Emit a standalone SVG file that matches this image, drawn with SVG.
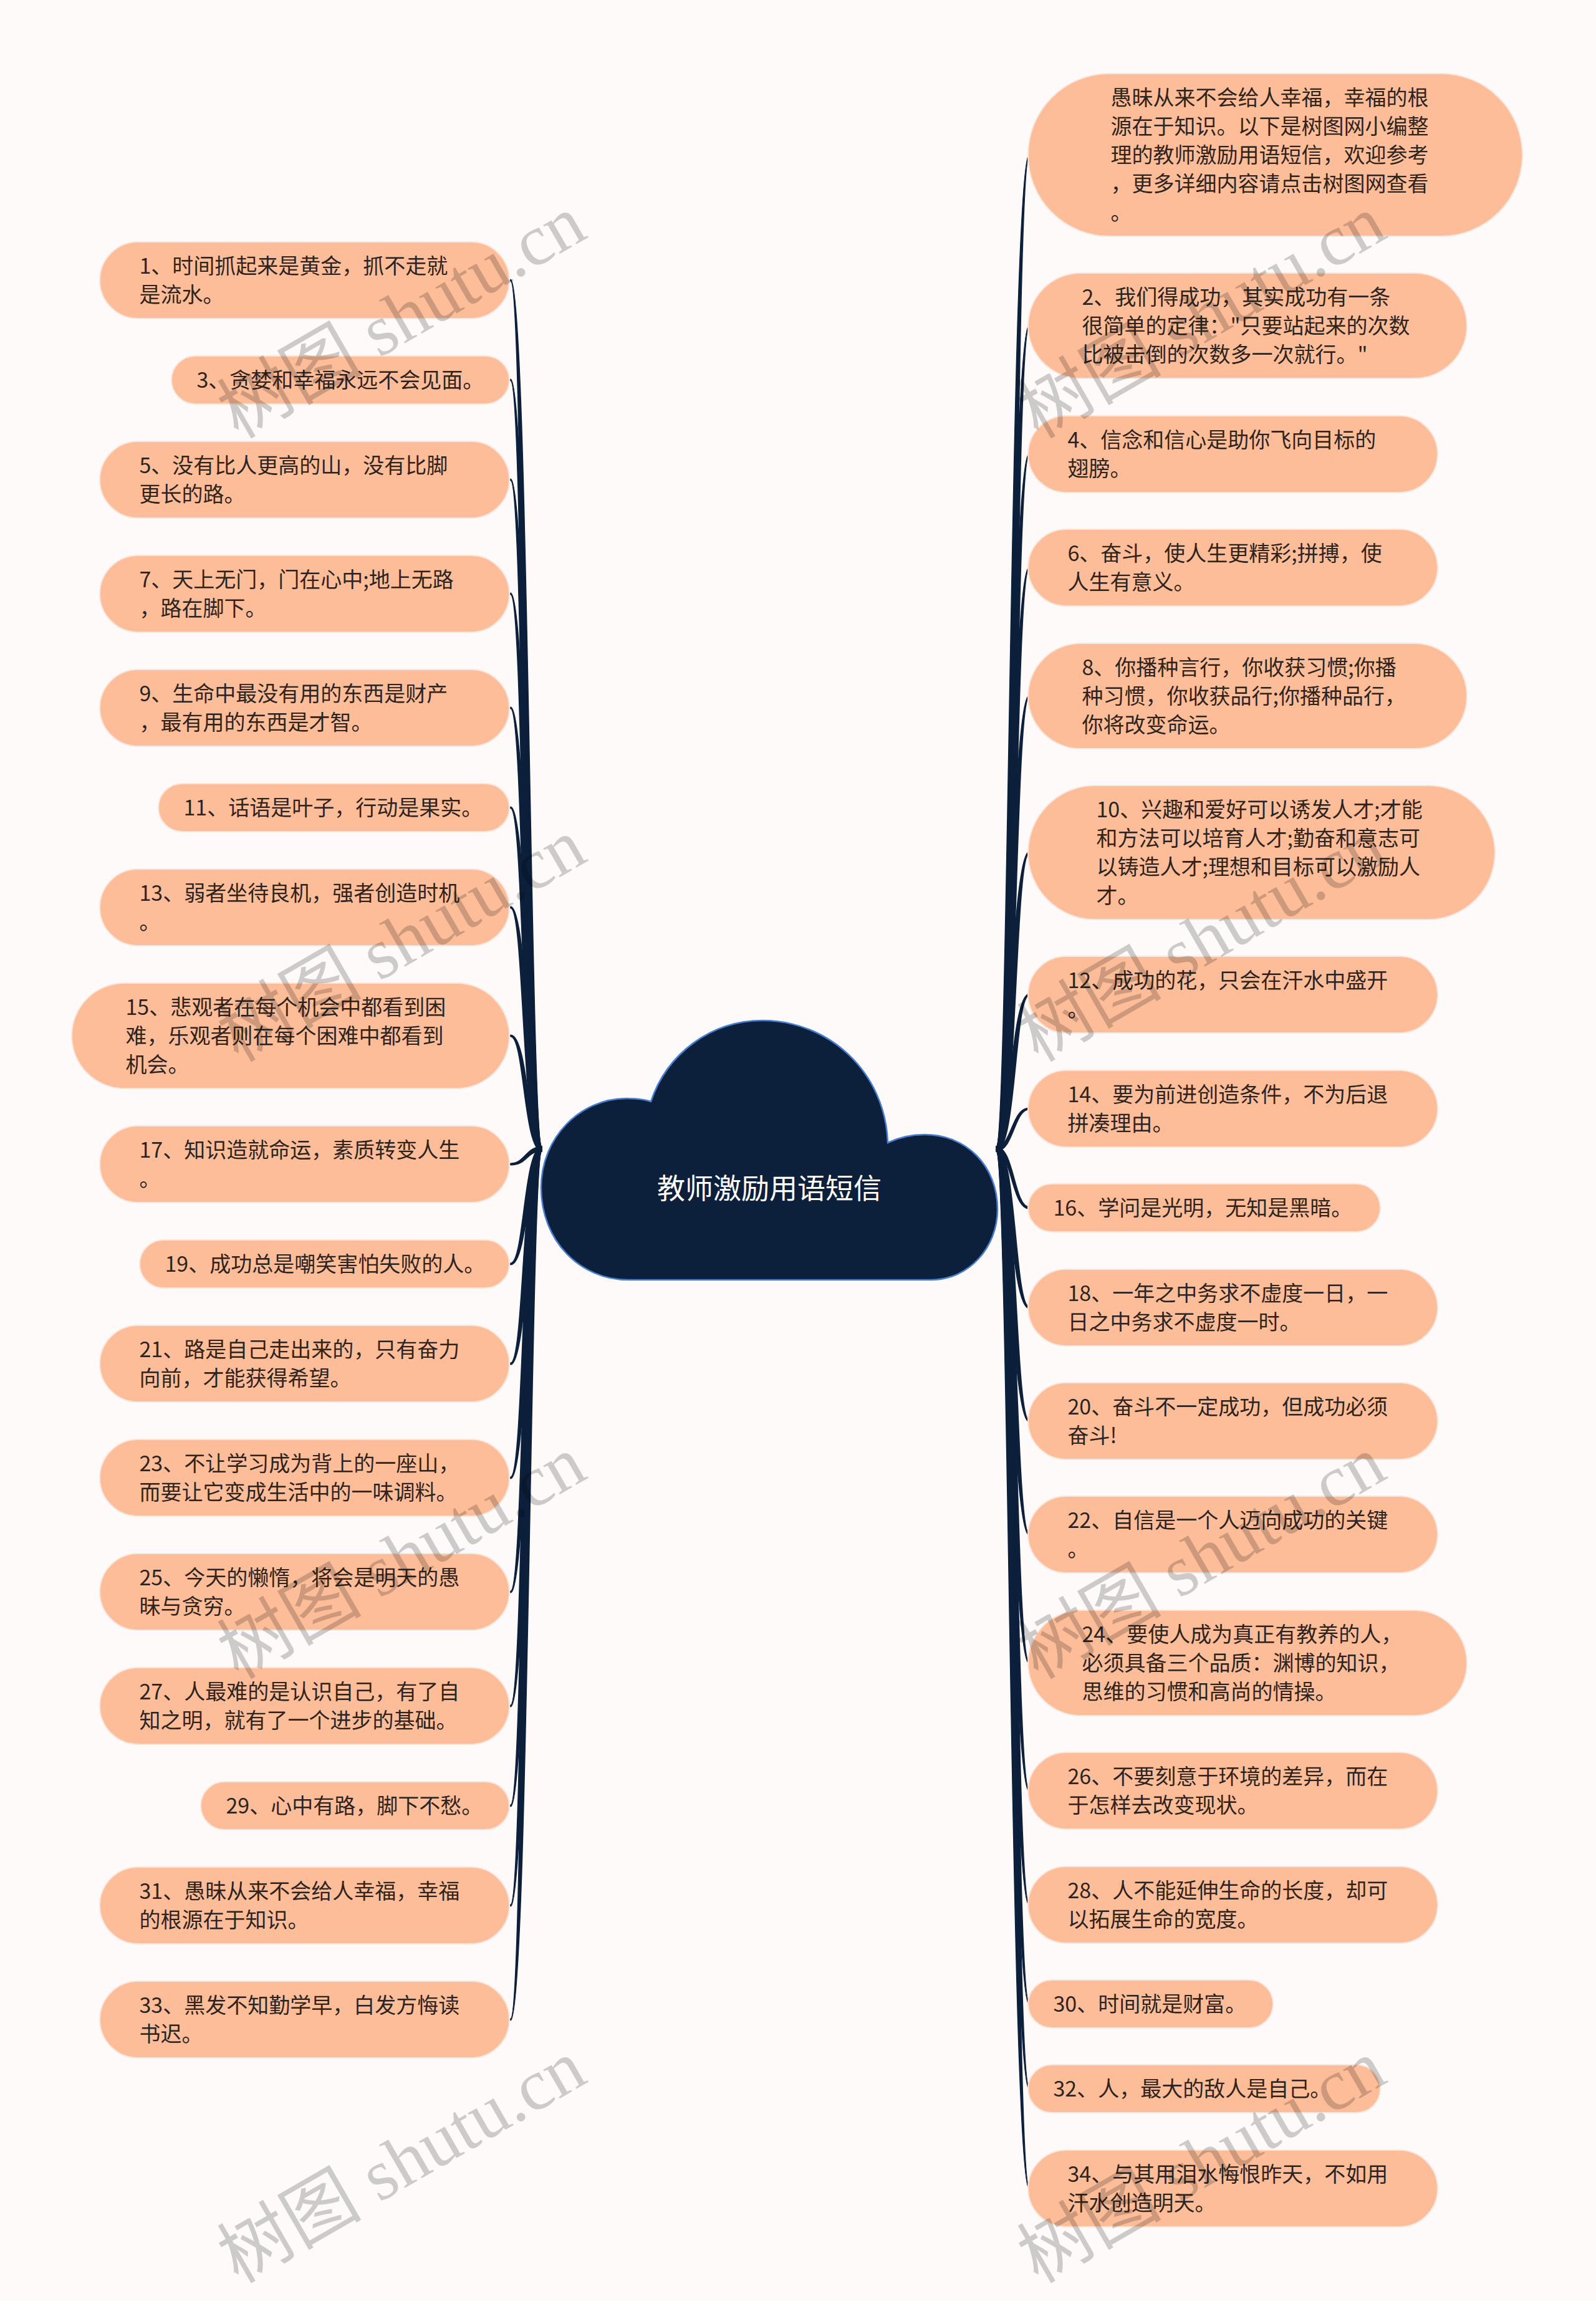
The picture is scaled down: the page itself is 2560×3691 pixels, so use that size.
<svg xmlns="http://www.w3.org/2000/svg" width="2560" height="3691" viewBox="0 0 2560 3691">
<style>
.n{fill:#fdbd99;stroke:#f8e6dc;stroke-width:2}
.t{font-family:"Noto Sans CJK SC","Noto Sans",sans-serif;font-size:34px;fill:#2e241d}
.c{fill:#0c1f3b;stroke:#0c1f3b;stroke-width:1.6;stroke-linejoin:round}
.wm{font-family:"Liberation Serif","Noto Sans CJK SC",serif;font-size:116px;fill:#000;fill-opacity:0.19}
</style>
<rect width="2560" height="3691" fill="#fdfaf9"/>
<g id="connectors" class="c">
<path d="M869 1839.5C851 1839.5 847 448.2 819 448.2L819 450.8C841 450.8 837 1846.5 869 1846.5Z"/>
<path d="M869 1839.5C851 1839.5 847 608.2 819 608.2L819 610.8C841 610.8 837 1846.5 869 1846.5Z"/>
<path d="M869 1839.5C851 1839.5 847 768.2 819 768.2L819 770.8C841 770.8 837 1846.5 869 1846.5Z"/>
<path d="M869 1839.5C851 1839.5 847 951.2 819 951.2L819 953.8C841 953.8 837 1846.5 869 1846.5Z"/>
<path d="M869 1839.5C851 1839.5 847 1134.2 819 1134.2L819 1136.8C841 1136.8 837 1846.5 869 1846.5Z"/>
<path d="M869 1839.5C851 1839.5 847 1294.2 819 1294.2L819 1296.8C841 1296.8 837 1846.5 869 1846.5Z"/>
<path d="M869 1839.5C851 1839.5 847 1454.2 819 1454.2L819 1456.8C841 1456.8 837 1846.5 869 1846.5Z"/>
<path d="M869 1839.5C848.2 1839.5 847 1660.2 819 1660.2L819 1662.8C841 1662.8 839.8 1846.5 869 1846.5Z"/>
<path d="M869 1839.5C843.4 1839.5 842 1866.2 819 1866.2L819 1868.8C846 1868.8 844.6 1846.5 869 1846.5Z"/>
<path d="M869 1839.5C839.7 1839.5 841 2026.2 819 2026.2L819 2028.8C847 2028.8 848.3 1846.5 869 1846.5Z"/>
<path d="M869 1839.5C837 1839.5 841 2186.2 819 2186.2L819 2188.8C847 2188.8 851 1846.5 869 1846.5Z"/>
<path d="M869 1839.5C837 1839.5 841 2369.2 819 2369.2L819 2371.8C847 2371.8 851 1846.5 869 1846.5Z"/>
<path d="M869 1839.5C837 1839.5 841 2552.2 819 2552.2L819 2554.8C847 2554.8 851 1846.5 869 1846.5Z"/>
<path d="M869 1839.5C837 1839.5 841 2735.2 819 2735.2L819 2737.8C847 2737.8 851 1846.5 869 1846.5Z"/>
<path d="M869 1839.5C837 1839.5 841 2895.2 819 2895.2L819 2897.8C847 2897.8 851 1846.5 869 1846.5Z"/>
<path d="M869 1839.5C837 1839.5 841 3055.2 819 3055.2L819 3057.8C847 3057.8 851 1846.5 869 1846.5Z"/>
<path d="M869 1839.5C837 1839.5 841 3238.2 819 3238.2L819 3240.8C847 3240.8 851 1846.5 869 1846.5Z"/>
<path d="M1598 1839.5C1617.5 1839.5 1621.5 247.2 1651 247.2L1651 249.8C1627.5 249.8 1631.5 1846.5 1598 1846.5Z"/>
<path d="M1598 1839.5C1617.5 1839.5 1621.5 521.2 1651 521.2L1651 523.8C1627.5 523.8 1631.5 1846.5 1598 1846.5Z"/>
<path d="M1598 1839.5C1617.5 1839.5 1621.5 727.2 1651 727.2L1651 729.8C1627.5 729.8 1631.5 1846.5 1598 1846.5Z"/>
<path d="M1598 1839.5C1617.5 1839.5 1621.5 909.2 1651 909.2L1651 911.8C1627.5 911.8 1631.5 1846.5 1598 1846.5Z"/>
<path d="M1598 1839.5C1617.5 1839.5 1621.5 1115.2 1651 1115.2L1651 1117.8C1627.5 1117.8 1631.5 1846.5 1598 1846.5Z"/>
<path d="M1598 1839.5C1617.5 1839.5 1621.5 1366.2 1651 1366.2L1651 1368.8C1627.5 1368.8 1631.5 1846.5 1598 1846.5Z"/>
<path d="M1598 1839.5C1618.7 1839.5 1621.5 1594.2 1651 1594.2L1651 1596.8C1627.5 1596.8 1630.3 1846.5 1598 1846.5Z"/>
<path d="M1598 1839.5C1623 1839.5 1622.5 1777.2 1651 1777.2L1651 1779.8C1626.5 1779.8 1626 1846.5 1598 1846.5Z"/>
<path d="M1598 1839.5C1626.7 1839.5 1626.5 1936.2 1651 1936.2L1651 1938.8C1622.5 1938.8 1622.3 1846.5 1598 1846.5Z"/>
<path d="M1598 1839.5C1630.4 1839.5 1627.5 2096.2 1651 2096.2L1651 2098.8C1621.5 2098.8 1618.6 1846.5 1598 1846.5Z"/>
<path d="M1598 1839.5C1631.5 1839.5 1627.5 2278.2 1651 2278.2L1651 2280.8C1621.5 2280.8 1617.5 1846.5 1598 1846.5Z"/>
<path d="M1598 1839.5C1631.5 1839.5 1627.5 2460.2 1651 2460.2L1651 2462.8C1621.5 2462.8 1617.5 1846.5 1598 1846.5Z"/>
<path d="M1598 1839.5C1631.5 1839.5 1627.5 2666.2 1651 2666.2L1651 2668.8C1621.5 2668.8 1617.5 1846.5 1598 1846.5Z"/>
<path d="M1598 1839.5C1631.5 1839.5 1627.5 2871.2 1651 2871.2L1651 2873.8C1621.5 2873.8 1617.5 1846.5 1598 1846.5Z"/>
<path d="M1598 1839.5C1631.5 1839.5 1627.5 3054.2 1651 3054.2L1651 3056.8C1621.5 3056.8 1617.5 1846.5 1598 1846.5Z"/>
<path d="M1598 1839.5C1631.5 1839.5 1627.5 3213.2 1651 3213.2L1651 3215.8C1621.5 3215.8 1617.5 1846.5 1598 1846.5Z"/>
<path d="M1598 1839.5C1631.5 1839.5 1627.5 3349.2 1651 3349.2L1651 3351.8C1621.5 3351.8 1617.5 1846.5 1598 1846.5Z"/>
<path d="M1598 1839.5C1631.5 1839.5 1627.5 3509.2 1651 3509.2L1651 3511.8C1621.5 3511.8 1617.5 1846.5 1598 1846.5Z"/>
</g>
<g id="center">
<path d="M1008 2053C930 2053 868 1990 868 1905C868 1825 930 1762 1005 1762C1020 1762 1035 1764 1044 1767C1070 1690 1140 1637 1223 1637C1330 1637 1420 1720 1424 1833C1445 1823 1465 1820 1483 1820C1550 1820 1600 1870 1600 1940C1600 2000 1555 2053 1493 2053Z" fill="#0c1f3b" stroke="#4a7fd0" stroke-width="2.5"/>
<text x="1234" y="1923" text-anchor="middle" font-family="'Noto Sans CJK SC',sans-serif" font-size="45" fill="#ffffff">教师激励用语短信</text>
</g>
<g id="n1"><rect class="n" x="160" y="388" width="657" height="123" rx="61.5"/><text class="t"><tspan x="223.5" y="438.5">1、时间抓起来是黄金，抓不走就</tspan><tspan x="223.5" y="484.5">是流水。</tspan></text></g>
<g id="n3"><rect class="n" x="275" y="571" width="542" height="77" rx="38.5"/><text class="t"><tspan x="315.5" y="621.5">3、贪婪和幸福永远不会见面。</tspan></text></g>
<g id="n5"><rect class="n" x="160" y="708" width="657" height="123" rx="61.5"/><text class="t"><tspan x="223.5" y="758.5">5、没有比人更高的山，没有比脚</tspan><tspan x="223.5" y="804.5">更长的路。</tspan></text></g>
<g id="n7"><rect class="n" x="160" y="891" width="657" height="123" rx="61.5"/><text class="t"><tspan x="223.5" y="941.5">7、天上无门，门在心中;地上无路</tspan><tspan x="223.5" y="987.5">，路在脚下。</tspan></text></g>
<g id="n9"><rect class="n" x="160" y="1074" width="657" height="123" rx="61.5"/><text class="t"><tspan x="223.5" y="1124.5">9、生命中最没有用的东西是财产</tspan><tspan x="223.5" y="1170.5">，最有用的东西是才智。</tspan></text></g>
<g id="n11"><rect class="n" x="254" y="1257" width="563" height="77" rx="38.5"/><text class="t"><tspan x="294.5" y="1307.5">11、话语是叶子，行动是果实。</tspan></text></g>
<g id="n13"><rect class="n" x="160" y="1394" width="657" height="123" rx="61.5"/><text class="t"><tspan x="223.5" y="1444.5">13、弱者坐待良机，强者创造时机</tspan><tspan x="223.5" y="1490.5">。</tspan></text></g>
<g id="n15"><rect class="n" x="115" y="1577" width="702" height="169" rx="84.5"/><text class="t"><tspan x="201.5" y="1627.5">15、悲观者在每个机会中都看到困</tspan><tspan x="201.5" y="1673.5">难，乐观者则在每个困难中都看到</tspan><tspan x="201.5" y="1719.5">机会。</tspan></text></g>
<g id="n17"><rect class="n" x="160" y="1806" width="657" height="123" rx="61.5"/><text class="t"><tspan x="223.5" y="1856.5">17、知识造就命运，素质转变人生</tspan><tspan x="223.5" y="1902.5">。</tspan></text></g>
<g id="n19"><rect class="n" x="224" y="1989" width="593" height="77" rx="38.5"/><text class="t"><tspan x="264.5" y="2039.5">19、成功总是嘲笑害怕失败的人。</tspan></text></g>
<g id="n21"><rect class="n" x="160" y="2126" width="657" height="123" rx="61.5"/><text class="t"><tspan x="223.5" y="2176.5">21、路是自己走出来的，只有奋力</tspan><tspan x="223.5" y="2222.5">向前，才能获得希望。</tspan></text></g>
<g id="n23"><rect class="n" x="160" y="2309" width="657" height="123" rx="61.5"/><text class="t"><tspan x="223.5" y="2359.5">23、不让学习成为背上的一座山，</tspan><tspan x="223.5" y="2405.5">而要让它变成生活中的一味调料。</tspan></text></g>
<g id="n25"><rect class="n" x="160" y="2492" width="657" height="123" rx="61.5"/><text class="t"><tspan x="223.5" y="2542.5">25、今天的懒惰，将会是明天的愚</tspan><tspan x="223.5" y="2588.5">昧与贪穷。</tspan></text></g>
<g id="n27"><rect class="n" x="160" y="2675" width="657" height="123" rx="61.5"/><text class="t"><tspan x="223.5" y="2725.5">27、人最难的是认识自己，有了自</tspan><tspan x="223.5" y="2771.5">知之明，就有了一个进步的基础。</tspan></text></g>
<g id="n29"><rect class="n" x="322" y="2858" width="495" height="77" rx="38.5"/><text class="t"><tspan x="362.5" y="2908.5">29、心中有路，脚下不愁。</tspan></text></g>
<g id="n31"><rect class="n" x="160" y="2995" width="657" height="123" rx="61.5"/><text class="t"><tspan x="223.5" y="3045.5">31、愚昧从来不会给人幸福，幸福</tspan><tspan x="223.5" y="3091.5">的根源在于知识。</tspan></text></g>
<g id="n33"><rect class="n" x="160" y="3178" width="657" height="123" rx="61.5"/><text class="t"><tspan x="223.5" y="3228.5">33、黑发不知勤学早，白发方悔读</tspan><tspan x="223.5" y="3274.5">书迟。</tspan></text></g>
<g id="n0"><rect class="n" x="1649" y="118" width="793" height="261" rx="130.5"/><text class="t"><tspan x="1781.5" y="168.5">愚昧从来不会给人幸福，幸福的根</tspan><tspan x="1781.5" y="214.5">源在于知识。以下是树图网小编整</tspan><tspan x="1781.5" y="260.5">理的教师激励用语短信，欢迎参考</tspan><tspan x="1781.5" y="306.5">，更多详细内容请点击树图网查看</tspan><tspan x="1781.5" y="352.5">。</tspan></text></g>
<g id="n2"><rect class="n" x="1649" y="438" width="704" height="169" rx="84.5"/><text class="t"><tspan x="1735.5" y="488.5">2、我们得成功，其实成功有一条</tspan><tspan x="1735.5" y="534.5">很简单的定律："只要站起来的次数</tspan><tspan x="1735.5" y="580.5">比被击倒的次数多一次就行。"</tspan></text></g>
<g id="n4"><rect class="n" x="1649" y="667" width="657" height="123" rx="61.5"/><text class="t"><tspan x="1712.5" y="717.5">4、信念和信心是助你飞向目标的</tspan><tspan x="1712.5" y="763.5">翅膀。</tspan></text></g>
<g id="n6"><rect class="n" x="1649" y="849" width="657" height="123" rx="61.5"/><text class="t"><tspan x="1712.5" y="899.5">6、奋斗，使人生更精彩;拼搏，使</tspan><tspan x="1712.5" y="945.5">人生有意义。</tspan></text></g>
<g id="n8"><rect class="n" x="1649" y="1032" width="704" height="169" rx="84.5"/><text class="t"><tspan x="1735.5" y="1082.5">8、你播种言行，你收获习惯;你播</tspan><tspan x="1735.5" y="1128.5">种习惯，你收获品行;你播种品行，</tspan><tspan x="1735.5" y="1174.5">你将改变命运。</tspan></text></g>
<g id="n10"><rect class="n" x="1649" y="1260" width="749" height="215" rx="107.5"/><text class="t"><tspan x="1758.5" y="1310.5">10、兴趣和爱好可以诱发人才;才能</tspan><tspan x="1758.5" y="1356.5">和方法可以培育人才;勤奋和意志可</tspan><tspan x="1758.5" y="1402.5">以铸造人才;理想和目标可以激励人</tspan><tspan x="1758.5" y="1448.5">才。</tspan></text></g>
<g id="n12"><rect class="n" x="1649" y="1534" width="657" height="123" rx="61.5"/><text class="t"><tspan x="1712.5" y="1584.5">12、成功的花，只会在汗水中盛开</tspan><tspan x="1712.5" y="1630.5">。</tspan></text></g>
<g id="n14"><rect class="n" x="1649" y="1717" width="657" height="123" rx="61.5"/><text class="t"><tspan x="1712.5" y="1767.5">14、要为前进创造条件，不为后退</tspan><tspan x="1712.5" y="1813.5">拼凑理由。</tspan></text></g>
<g id="n16"><rect class="n" x="1649" y="1899" width="565" height="77" rx="38.5"/><text class="t"><tspan x="1689.5" y="1949.5">16、学问是光明，无知是黑暗。</tspan></text></g>
<g id="n18"><rect class="n" x="1649" y="2036" width="657" height="123" rx="61.5"/><text class="t"><tspan x="1712.5" y="2086.5">18、一年之中务求不虚度一日，一</tspan><tspan x="1712.5" y="2132.5">日之中务求不虚度一时。</tspan></text></g>
<g id="n20"><rect class="n" x="1649" y="2218" width="657" height="123" rx="61.5"/><text class="t"><tspan x="1712.5" y="2268.5">20、奋斗不一定成功，但成功必须</tspan><tspan x="1712.5" y="2314.5">奋斗!</tspan></text></g>
<g id="n22"><rect class="n" x="1649" y="2400" width="657" height="123" rx="61.5"/><text class="t"><tspan x="1712.5" y="2450.5">22、自信是一个人迈向成功的关键</tspan><tspan x="1712.5" y="2496.5">。</tspan></text></g>
<g id="n24"><rect class="n" x="1649" y="2583" width="704" height="169" rx="84.5"/><text class="t"><tspan x="1735.5" y="2633.5">24、要使人成为真正有教养的人，</tspan><tspan x="1735.5" y="2679.5">必须具备三个品质：渊博的知识，</tspan><tspan x="1735.5" y="2725.5">思维的习惯和高尚的情操。</tspan></text></g>
<g id="n26"><rect class="n" x="1649" y="2811" width="657" height="123" rx="61.5"/><text class="t"><tspan x="1712.5" y="2861.5">26、不要刻意于环境的差异，而在</tspan><tspan x="1712.5" y="2907.5">于怎样去改变现状。</tspan></text></g>
<g id="n28"><rect class="n" x="1649" y="2994" width="657" height="123" rx="61.5"/><text class="t"><tspan x="1712.5" y="3044.5">28、人不能延伸生命的长度，却可</tspan><tspan x="1712.5" y="3090.5">以拓展生命的宽度。</tspan></text></g>
<g id="n30"><rect class="n" x="1649" y="3176" width="393" height="77" rx="38.5"/><text class="t"><tspan x="1689.5" y="3226.5">30、时间就是财富。</tspan></text></g>
<g id="n32"><rect class="n" x="1649" y="3312" width="565" height="77" rx="38.5"/><text class="t"><tspan x="1689.5" y="3362.5">32、人，最大的敌人是自己。</tspan></text></g>
<g id="n34"><rect class="n" x="1649" y="3449" width="657" height="123" rx="61.5"/><text class="t"><tspan x="1712.5" y="3499.5">34、与其用泪水悔恨昨天，不如用</tspan><tspan x="1712.5" y="3545.5">汗水创造明天。</tspan></text></g>
<g id="watermarks" class="wm">
<text transform="translate(382 705) rotate(-30)">树图 shutu.cn</text>
<text transform="translate(1665 705) rotate(-30)">树图 shutu.cn</text>
<text transform="translate(382 1705) rotate(-30)">树图 shutu.cn</text>
<text transform="translate(1665 1705) rotate(-30)">树图 shutu.cn</text>
<text transform="translate(382 2695) rotate(-30)">树图 shutu.cn</text>
<text transform="translate(1665 2695) rotate(-30)">树图 shutu.cn</text>
<text transform="translate(382 3664) rotate(-30)">树图 shutu.cn</text>
<text transform="translate(1665 3664) rotate(-30)">树图 shutu.cn</text>
</g>
</svg>
